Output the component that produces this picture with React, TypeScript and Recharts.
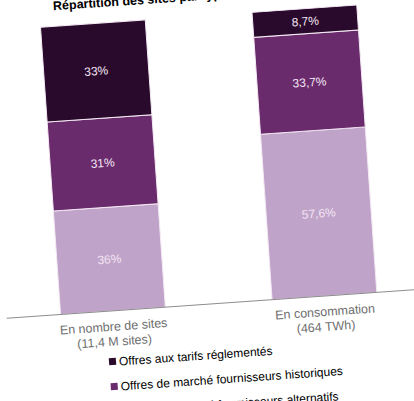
import React from "react";
import { BarChart, Bar, XAxis, YAxis, LabelList, Legend } from "recharts";

// catégories et valeurs (%)
const categories = ["En nombre de sites", "En consommation"];
const subLabels = ["(11,4 M sites)", "(464 TWh)"];
const alternatifs = [36, 57.6];
const historiques = [31, 33.7];
const reglementes = [33, 8.7];

const SERIES = [
  { key: "reglementes", name: "Offres aux tarifs réglementés", color: "#2a0a2c" },
  { key: "historiques", name: "Offres de marché fournisseurs historiques", color: "#6a2b6d" },
  { key: "alternatifs", name: "Offres de marché fournisseurs alternatifs", color: "#c0a3c9" },
];

const data = categories.map((cat, i) => ({
  cat,
  sub: subLabels[i],
  alternatifs: alternatifs[i],
  historiques: historiques[i],
  reglementes: reglementes[i],
}));

const FONT = "'Liberation Sans', Arial, sans-serif";

const fmt = (v: any) => String(v).replace(".", ",") + "%";

function CatTick(props: any) {
  const { x, y, payload, index } = props;
  return (
    <text x={x} y={y + 3} textAnchor="middle" fill="#6e6e6e" fontSize={12.5} fontFamily={FONT}>
      <tspan x={x} dy="0.71em">{payload.value}</tspan>
      <tspan x={x} dy={15}>{subLabels[index]}</tspan>
    </text>
  );
}

function LegendBox(props: any) {
  const payload = props.payload || [];
  const order = SERIES.map((s) => s.name);
  const items = [...payload].sort((a: any, b: any) => order.indexOf(a.value) - order.indexOf(b.value));
  return (
    <div style={{ fontFamily: FONT, fontSize: 12, color: "#000" }}>
      {items.map((it: any) => (
        <div key={it.value} style={{ height: 25, display: "flex", alignItems: "center", whiteSpace: "nowrap" }}>
          <span style={{ width: 7, height: 7, background: it.color, display: "inline-block", marginRight: 3 }} />
          <span>{it.value}</span>
        </div>
      ))}
    </div>
  );
}

export default function App() {
  return (
    <div style={{ position: "fixed", left: 0, top: 0, width: 414, height: 401, overflow: "hidden", background: "#fff" }}>
      <div
        style={{
          position: "absolute",
          left: -20,
          top: -20,
          width: 454,
          height: 441,
          transform: "rotate(-4deg)",
        }}
      >
        <div
          style={{
            position: "absolute",
            left: 87,
            top: 9,
            fontFamily: FONT,
            fontWeight: "bold",
            fontSize: 12.5,
            color: "#000",
            whiteSpace: "nowrap",
          }}
        >
          Répartition des sites par type d'offre
        </div>
        <BarChart
          width={454}
          height={441}
          data={data}
          margin={{ top: 36, right: 11, left: 19, bottom: 77 }}
        >
          <XAxis
            dataKey="cat"
            height={40}
            tickLine={false}
            axisLine={{ stroke: "#8c8c8c" }}
            tick={<CatTick />}
            interval={0}
          />
          <YAxis hide domain={[0, 100]} />
          <Legend
            layout="horizontal"
            verticalAlign="middle"
            align="center"
            content={<LegendBox />}
            wrapperStyle={{ left: 118, top: 362, bottom: "auto", width: "auto" }}
          />
          {[...SERIES].reverse().map((s) => (
            <Bar
              key={s.key}
              dataKey={s.key}
              name={s.name}
              stackId="a"
              fill={s.color}
              stroke="#f4eaf4"
              strokeWidth={1}
              barSize={105}
              isAnimationActive={false}
            >
              <LabelList
                dataKey={s.key}
                position="center"
                formatter={fmt}
                fill="#f3e4f3"
                fontSize={12}
                fontFamily={FONT}
              />
            </Bar>
          ))}
        </BarChart>
      </div>
    </div>
  );
}
